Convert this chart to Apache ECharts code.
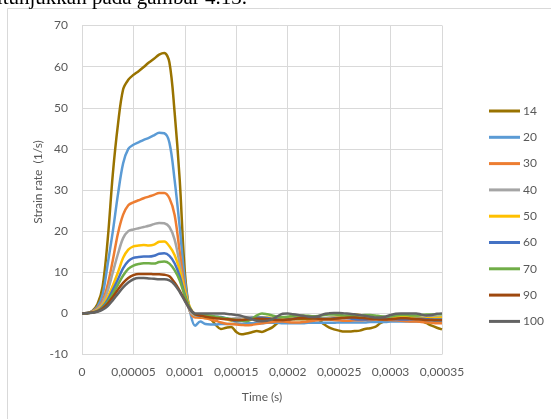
<!DOCTYPE html>
<html>
<head>
<meta charset="utf-8">
<script src="https://cdn.jsdelivr.net/npm/echarts@6/dist/echarts.min.js"></script>
<style>
  html, body { margin: 0; padding: 0; background: #ffffff; }
  #chart { width: 551px; height: 419px; }
</style>
</head>
<body>
<div id="chart"></div>
<script>
// Sampling instants in microseconds (0 .. 350 us, every 5 us)
const timeUs = [
  0, 5, 10, 15, 20, 25, 30, 35, 40, 45, 50, 55, 60, 65, 70, 75, 80, 85, 90, 95,
  100, 105, 110, 115, 120, 125, 130, 135, 140, 145, 150, 155, 160, 165, 170, 175,
  180, 185, 190, 195, 200, 205, 210, 215, 220, 225, 230, 235, 240, 245, 250, 255,
  260, 265, 270, 275, 280, 285, 290, 295, 300, 305, 310, 315, 320, 325, 330, 335,
  340, 345, 350
];

// Strain rate (1/s) for each test case
const rate14 = [
  0, 0.1, 0.6, 2.2, 6.5, 18, 34, 46, 54.5, 56.8, 58, 58.9, 59.9, 61, 61.9, 62.9, 63.3, 61, 49, 32.5, 10, 0.5, -0.7,
  -1.0, -1.1, -1.4, -2.8, -3.8, -3.5, -3.3, -4.5, -5.1, -4.9, -4.6, -4.3, -4.5, -4.0, -3.4, -2.4, -1.8, -1.5,
  -1.4, -1.4, -1.4, -1.5, -1.5, -1.6, -2.6, -3.4, -3.9, -4.2, -4.4, -4.4, -4.3, -4.2, -3.8, -3.6, -3.3, -2.4,
  -1.8, -1.6, -1.5, -1.5, -1.5, -1.5, -1.5, -1.8, -2.4, -3.0, -3.5, -3.9
];
const rate20 = [
  0, 0.1, 0.5, 1.6, 4.5, 12, 20, 29, 36.5, 40, 41, 41.6, 42.2, 42.7, 43.3, 43.9, 43.8, 41.5, 32.5, 21, 8, 0.5, -3.0,
  -2.0, -2.6, -2.7, -2.7, -2.6, -2.6, -2.6, -2.5, -2.5, -2.4, -2.4, -2.4, -2.4, -2.3, -2.3, -2.3, -2.4, -2.4,
  -2.4, -2.4, -2.4, -2.3, -2.3, -2.3, -2.3, -2.3, -2.3, -2.2, -2.2, -2.2, -2.2, -2.2, -2.2, -2.1, -2.1, -2.1,
  -2.1, -2.0, -2.0, -2.0, -2.0, -2.0, -2.0, -2.0, -2.0, -2.0, -2.0, -2.0
];
const rate30 = [
  0, 0.1, 0.4, 1.2, 3, 7, 13, 19.5, 24, 26.3, 27, 27.5, 28, 28.4, 28.8, 29.3, 29.3, 28, 24, 15, 6, 0.5, -1.0,
  -1.0, -1.2, -1.5, -1.8, -2.2, -2.5, -2.6, -2.7, -2.8, -2.9, -2.8, -2.6, -2.4, -2.2, -2.1, -2.0, -2.0, -2.1,
  -2.2, -2.2, -2.1, -2.0, -1.8, -1.6, -1.5, -1.5, -1.6, -1.7, -1.8, -1.8, -1.7, -1.7, -1.6, -1.6, -1.5, -1.5,
  -1.6, -1.6, -1.7, -1.8, -1.9, -2.0, -2.0, -2.1, -2.2, -2.3, -2.4, -2.4
];
const rate40 = [
  0, 0.1, 0.3, 1, 2.5, 5.5, 10, 14.5, 18.3, 20, 20.4, 20.7, 21, 21.3, 21.7, 22, 21.9, 21, 18, 12, 5, 0.5, -0.5,
  -0.6, -0.7, -0.8, -1.0, -1.2, -1.3, -1.3, -1.2, -1.0, -0.9, -0.9, -1.0, -1.2, -1.4, -1.5, -1.4, -1.2, -1.0,
  -0.9, -0.8, -0.8, -0.9, -1.0, -1.1, -1.1, -1.0, -0.9, -0.8, -0.7, -0.7, -0.8, -0.9, -1.0, -1.1, -1.2, -1.2,
  -1.1, -1.0, -0.9, -0.8, -0.8, -0.8, -0.9, -1.0, -1.0, -0.9, -0.8, -0.8
];
const rate50 = [
  0, 0.05, 0.25, 0.8, 2, 4, 6.8, 10, 13.5, 15.5, 16.3, 16.5, 16.6, 16.5, 16.7, 17.4, 17.5, 16.3, 14.2, 10.5, 5.5, 1.5, -0.3,
  -0.6, -0.8, -0.9, -1.0, -1.1, -1.4, -1.8, -1.9, -1.7, -1.4, -1.2, -1.1, -1.0, -1.0, -1.1, -1.2, -1.3, -1.2,
  -1.0, -0.8, -0.7, -0.8, -1.0, -1.2, -1.3, -1.2, -1.1, -1.0, -0.8, -0.5, -0.3, -0.4, -0.7, -1.0, -1.2, -1.3,
  -1.2, -1.0, -0.8, -0.7, -0.7, -0.8, -1.0, -1.1, -1.2, -1.2, -1.1, -1.0
];
const rate60 = [
  0, 0.05, 0.2, 0.6, 1.6, 3.3, 5.7, 8.3, 11, 12.7, 13.5, 13.7, 13.8, 13.8, 14.0, 14.5, 14.6, 14.0, 12.2, 9, 4.5, 1.2, -0.3,
  -0.6, -0.7, -0.7, -0.8, -0.9, -1.2, -1.6, -1.9, -1.8, -1.4, -1.1, -1.0, -1.0, -1.1, -1.3, -1.5, -1.6, -1.5,
  -1.3, -1.1, -1.0, -1.0, -1.1, -1.2, -1.3, -1.3, -1.2, -1.1, -1.1, -1.2, -1.4, -1.5, -1.5, -1.4, -1.3, -1.2,
  -1.2, -1.3, -1.4, -1.5, -1.5, -1.4, -1.3, -1.3, -1.4, -1.5, -1.5, -1.5
];
const rate70 = [
  0, 0.05, 0.2, 0.5, 1.3, 2.8, 4.8, 7, 9.2, 10.8, 11.6, 12, 12.2, 12.2, 12.1, 12.5, 12.6, 12.1, 10.5, 8, 4.2, 1.2, -0.2,
  -0.3, -0.4, -0.6, -0.8, -1.0, -1.2, -1.4, -1.6, -1.8, -1.9, -1.4, -0.5, 0, -0.2, -0.5, -0.8, -0.9, -0.8,
  -0.6, -0.5, -0.5, -0.6, -0.7, -0.6, -0.4, -0.3, -0.3, -0.4, -0.5, -0.6, -0.6, -0.5, -0.4, -0.4, -0.5, -0.7,
  -0.8, -0.7, -0.5, -0.4, -0.4, -0.5, -0.5, -0.4, -0.3, -0.3, -0.2, -0.2
];
const rate90 = [
  0, 0.05, 0.2, 0.5, 1.2, 2.4, 4, 5.8, 7.4, 8.6, 9.3, 9.6, 9.6, 9.6, 9.5, 9.5, 9.4, 9.0, 7.5, 5.5, 3.2, 1.0, -0.2,
  -0.5, -0.8, -1.0, -1.2, -1.3, -1.4, -1.5, -1.6, -1.6, -1.5, -1.4, -1.3, -1.3, -1.4, -1.5, -1.6, -1.6, -1.5,
  -1.4, -1.2, -1.1, -1.1, -1.2, -1.3, -1.4, -1.4, -1.3, -1.2, -1.1, -1.0, -1.0, -1.1, -1.2, -1.3, -1.4, -1.5,
  -1.5, -1.4, -1.3, -1.2, -1.2, -1.3, -1.4, -1.5, -1.6, -1.6, -1.7, -1.7
];
const rate100 = [
  0, 0.03, 0.15, 0.4, 0.9, 1.8, 3.2, 4.8, 6.3, 7.5, 8.3, 8.6, 8.6, 8.5, 8.4, 8.3, 8.3, 8.0, 7.0, 5.2, 3.0, 1.0, 0,
  0, 0, 0, 0, 0, -0.1, -0.2, -0.4, -0.6, -1.0, -1.4, -1.8, -1.9, -1.8, -1.4, -0.7, -0.1, 0,
  -0.2, -0.4, -0.6, -0.8, -0.9, -0.7, -0.2, 0, 0.1, 0.1, 0, -0.1, -0.2, -0.4, -0.6, -0.8, -1.0, -1.0,
  -0.8, -0.4, -0.1, 0, 0, 0, 0, -0.3, -0.5, -0.4, -0.1, 0
];

const seriesNames = ['14', '20', '30', '40', '50', '60', '70', '90', '100'];
const seriesValues = [rate14, rate20, rate30, rate40, rate50, rate60, rate70, rate90, rate100];
const seriesColors = ['#997300', '#5B9BD5', '#ED7D31', '#A5A5A5', '#FFC000', '#4472C4', '#70AD47', '#9E480E', '#636363'];

const xTickLabels = ['0', '0,00005', '0,0001', '0,00015', '0,0002', '0,00025', '0,0003', '0,00035'];
const yTickLabels = ['-10', '0', '10', '20', '30', '40', '50', '60', '70'];

const X_STEP = 0.00005;
const FONT = 'Lato, "Liberation Sans", sans-serif';
const GREY_TEXT = '#595959';
const GRID_COLOR = '#d9d9d9';

const chart = echarts.init(document.getElementById('chart'), null, { renderer: 'canvas' });

const series = seriesNames.map((name, k) => ({
  name: name,
  type: 'line',
  data: timeUs.map((t, i) => [t / 1e6, seriesValues[k][i]]),
  symbol: 'none',
  smooth: 0.35,
  lineStyle: { width: 2.5, color: seriesColors[k] },
  itemStyle: { color: seriesColors[k] },
  emphasis: { disabled: true },
  z: 2 + k
}));

chart.setOption({
  animation: false,
  backgroundColor: '#ffffff',
  grid: { left: 82, top: 25.5, width: 360, height: 329, containLabel: false },
  xAxis: {
    type: 'value',
    min: 0,
    max: 0.00035,
    interval: X_STEP,
    axisLine: { show: false, onZero: false },
    axisTick: { show: false },
    splitLine: { show: true, lineStyle: { color: GRID_COLOR, width: 1 } },
    axisLabel: {
      margin: 12,
      fontFamily: FONT,
      fontSize: 12,
      color: GREY_TEXT,
      formatter: v => xTickLabels[Math.round(v / X_STEP)]
    }
  },
  yAxis: {
    type: 'value',
    min: -10,
    max: 70,
    interval: 10,
    axisLine: { show: false },
    axisTick: { show: false },
    splitLine: { show: true, lineStyle: { color: GRID_COLOR, width: 1 } },
    axisLabel: {
      margin: 14,
      fontFamily: FONT,
      fontSize: 12,
      color: GREY_TEXT,
      formatter: v => yTickLabels[Math.round((v + 10) / 10)]
    }
  },
  legend: {
    orient: 'vertical',
    left: 489,
    top: 105,
    padding: 0,
    icon: 'rect',
    itemWidth: 31,
    itemHeight: 3,
    itemGap: 14.3,
    selectedMode: false,
    textStyle: { fontFamily: FONT, fontSize: 12, color: GREY_TEXT, padding: [0, 0, 0, -2] },
    data: seriesNames
  },
  graphic: [
    {
      type: 'rect',
      silent: true,
      z: -10,
      shape: { x: 7.5, y: 8.5, width: 700, height: 600 },
      style: { fill: 'none', stroke: GRID_COLOR, lineWidth: 1 }
    },
    {
      type: 'text',
      silent: true,
      x: 247,
      y: 9,
      style: {
        text: 'ditunjukkan pada gambar 4.13.',
        font: '21px "Liberation Serif", "Times New Roman", serif',
        fill: '#000000',
        textAlign: 'right',
        textVerticalAlign: 'bottom'
      }
    },
    {
      type: 'text',
      silent: true,
      x: 38,
      y: 182,
      rotation: Math.PI / 2,
      style: {
        text: 'Strain rate  (1/s)',
        font: '12px ' + FONT,
        fill: GREY_TEXT,
        textAlign: 'center',
        textVerticalAlign: 'middle'
      }
    },
    {
      type: 'text',
      silent: true,
      x: 262,
      y: 397,
      style: {
        text: 'Time (s)',
        font: '12px ' + FONT,
        fill: GREY_TEXT,
        textAlign: 'center',
        textVerticalAlign: 'middle'
      }
    }
  ],
  series: series
});
</script>
</body>
</html>
